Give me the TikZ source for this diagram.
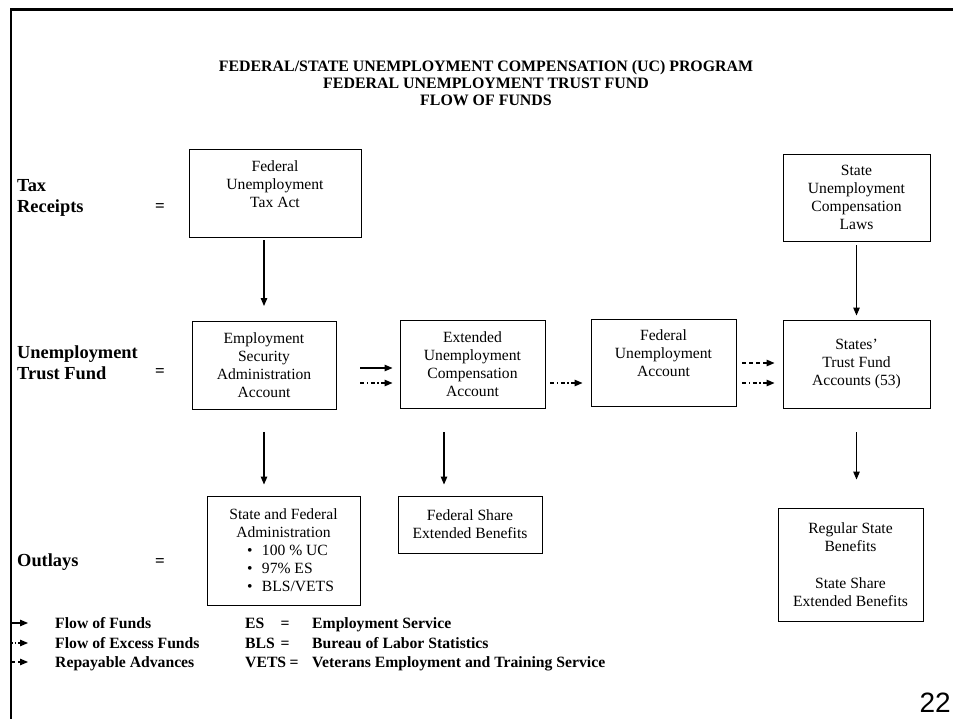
\documentclass[tikz,border=0pt]{standalone}
\usepackage{fontspec}
\setmainfont{Liberation Serif}
\newfontfamily\numfont{Liberation Sans}
\usetikzlibrary{arrows.meta}
\begin{document}
\begin{tikzpicture}[x=1pt,y=-1pt,
  box/.style={draw, line width=0.9pt, align=center, inner sep=0pt, font=\fontsize{15.6}{18}\selectfont},
  lbl/.style={anchor=west, align=left, inner sep=0pt, font=\bfseries\fontsize{18.4}{21}\selectfont},
  eqs/.style={inner sep=0pt, font=\bfseries\fontsize{17}{18}\selectfont},
  flow/.style={line width=1.1pt, -{Triangle[length=8pt,width=6.5pt]}},
  excess/.style={flow, dash pattern=on 4pt off 2.5pt on 1.5pt off 2.5pt},
  advance/.style={flow, dash pattern=on 4pt off 3pt},
  leg/.style={anchor=base west, inner sep=0pt, font=\bfseries\fontsize{15.7}{18}\selectfont},
  legeq/.style={anchor=base, inner sep=0pt, font=\bfseries\fontsize{15.7}{18}\selectfont}
]
\useasboundingbox (0,0) rectangle (953,719);
\fill[white] (0,0) rectangle (953,719);
\draw[line width=2.5pt] (11,719) -- (11,9.5) -- (953,9.5);

% title
\node[align=center, inner sep=0pt, font=\bfseries\fontsize{15.9}{17}\selectfont] (title) at (486,83)
  {FEDERAL/STATE UNEMPLOYMENT COMPENSATION (UC) PROGRAM\\FEDERAL UNEMPLOYMENT TRUST FUND\\FLOW OF FUNDS};

% row labels
\node[lbl] (taxlbl) at (17,197.5) {Tax\\Receipts};
\node[eqs] (taxeq) at (160,208) {=};
\node[lbl] (utflbl) at (17,362.5) {Unemployment\\Trust Fund};
\node[eqs] (utfeq) at (160,373) {=};
\node[lbl] (outlbl) at (17,562) {Outlays};
\node[eqs] (outeq) at (160,563) {=};

% boxes
\node[box, minimum width=172pt, minimum height=88pt] (futa) at (275,193) {Federal\\Unemployment\\Tax Act\\\mbox{}};
\node[box, minimum width=147pt, minimum height=87pt] (sucl) at (856.5,197.5) {State\\Unemployment\\Compensation\\Laws};
\node[box, minimum width=144pt, minimum height=88pt] (esaa) at (264,365.5) {Employment\\Security\\Administration\\Account};
\node[box, minimum width=145pt, minimum height=88pt] (euca) at (472.5,364) {Extended\\Unemployment\\Compensation\\Account};
\node[box, minimum width=145pt, minimum height=87pt] (fua) at (663.5,362.5) {Federal\\Unemployment\\Account\\\mbox{}};
\node[box, minimum width=147pt, minimum height=88pt] (stt) at (856.5,364) {States'\\Trust Fund\\Accounts (53)};
\node[box, minimum width=153pt, minimum height=109pt] (sfa) at (283.5,550.5)
  {State and Federal\\Administration\\
   \makebox[73pt][l]{\makebox[15pt][l]{\textbullet}100 \% UC}\\
   \makebox[73pt][l]{\makebox[15pt][l]{\textbullet}97\% ES}\\
   \makebox[73pt][l]{\makebox[15pt][l]{\textbullet}BLS/VETS}};
\node[box, minimum width=144pt, minimum height=57pt] (fsh) at (470,524.5) {Federal Share\\Extended Benefits};
\node[box, minimum width=145pt, minimum height=113pt] (rsb) at (850.5,564.5) {Regular State\\Benefits\\[19pt]State Share\\Extended Benefits};

% vertical arrows
\draw[flow, shorten <=3pt, shorten >=15pt] (futa.south -| esaa.north) -- (esaa.north);
\draw[flow, shorten <=4pt, shorten >=4pt] (sucl.south) -- (stt.north);
\draw[flow, shorten <=22pt, shorten >=11pt] (esaa.south) -- (esaa.south |- sfa.north);
\draw[flow, shorten <=24pt, shorten >=11pt] ([xshift=-28.5pt]euca.south) -- ([xshift=-28.5pt]euca.south |- fsh.north);
\draw[flow, shorten <=24pt, shorten >=28pt] (stt.south) -- (stt.south |- rsb.north);

% horizontal arrows
\draw[flow, shorten <=24pt, shorten >=7pt] (esaa.east |- 0,368) -- (euca.west |- 0,368);
\draw[excess, shorten <=24pt, shorten >=7pt] (esaa.east |- 0,383) -- (euca.west |- 0,383);
\draw[excess, shorten <=5pt, shorten >=8pt] (euca.east |- 0,383) -- (fua.west |- 0,383);
\draw[advance, shorten <=6pt, shorten >=8pt] (fua.east |- 0,363) -- (stt.west |- 0,363);
\draw[excess, shorten <=6pt, shorten >=8pt] (fua.east |- 0,383) -- (stt.west |- 0,383);

% legend
\coordinate (la1) at (11,623); \coordinate (lb1) at (28,623);
\coordinate (la2) at (11,643); \coordinate (lb2) at (28,643);
\coordinate (la3) at (11,662); \coordinate (lb3) at (28,662);
\draw[flow] (la1) -- (lb1);
\draw[flow, dash pattern=on 1.5pt off 2pt] (la2) -- (lb2);
\draw[flow, dash pattern=on 4pt off 3pt] (la3) -- (lb3);
\node[leg] (lg1) at (55,628) {Flow of Funds};
\node[leg] (lg2) at (55,648) {Flow of Excess Funds};
\node[leg] (lg3) at (55,667) {Repayable Advances};
\node[leg] (ab1) at (245,628) {ES};
\node[leg] (ab2) at (245,648) {BLS};
\node[leg] (ab3) at (245,667) {VETS};
\node[legeq] (eq1) at (285,628) {=};
\node[legeq] (eq2) at (285,648) {=};
\node[legeq] (eq3) at (294,667) {=};
\node[leg] (df1) at (312,628) {Employment Service};
\node[leg] (df2) at (312,648) {Bureau of Labor Statistics};
\node[leg] (df3) at (312,667) {Veterans Employment and Training Service};

% page number
\node[anchor=east, inner sep=0pt, font=\numfont\fontsize{28}{30}\selectfont] (pnum) at (951,703) {22};
\end{tikzpicture}
\end{document}
